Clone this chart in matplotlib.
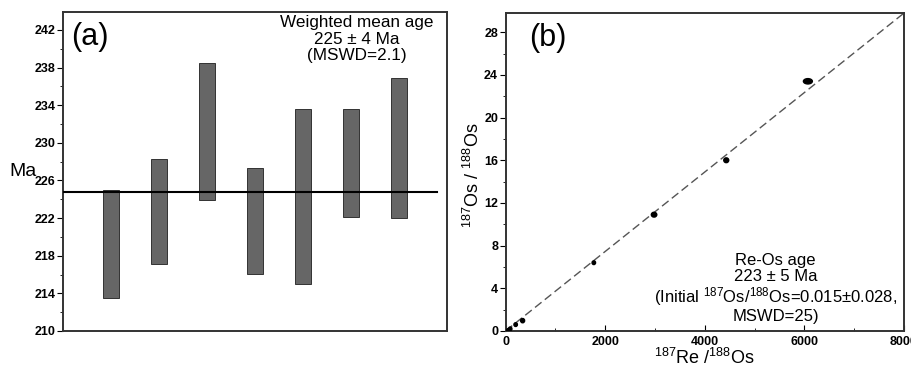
"""Two-panel age figure: (a) weighted mean age bars, (b) Re-Os isochron."""
import numpy as np
import matplotlib
matplotlib.use("Agg")
import matplotlib.pyplot as plt
from matplotlib.patches import Ellipse
from matplotlib.ticker import MultipleLocator

plt.rcParams["font.family"] = ["Liberation Sans", "DejaVu Sans"]
plt.rcParams["mathtext.fontset"] = "custom"
plt.rcParams["mathtext.rm"] = "Liberation Sans"
plt.rcParams["mathtext.it"] = "Liberation Sans:italic"

# (a) individual model ages, as low/high of each error bar (Ma)
age_low = [213.5, 217.1, 223.9, 216.1, 215.0, 222.1, 222.0]
age_high = [225.0, 228.3, 238.5, 227.3, 233.6, 233.6, 236.9]
mean_age = 224.8
a_yticks = [210, 214, 218, 222, 226, 230, 234, 238, 242]

# (b) isochron points and error-ellipse sizes
re_os = [50, 90, 200, 340, 1770, 2980, 4430, 6070]
os_os = [0.05, 0.2, 0.6, 0.97, 6.4, 10.9, 16.0, 23.4]
err_x = [70, 70, 70, 80, 70, 110, 100, 180]
err_y = [0.35, 0.35, 0.35, 0.4, 0.35, 0.45, 0.45, 0.5]
iso_intercept = 0.015
iso_slope = 0.003722
b_xticks = [0, 2000, 4000, 6000, 8000]
b_yticks = [0, 4, 8, 12, 16, 20, 24, 28]

fig = plt.figure(figsize=(9.12, 3.67), dpi=100)

# ---- panel (a)
ax1 = fig.add_axes([0.0691, 0.0981, 0.4211, 0.8692])
xpos = np.arange(1, len(age_low) + 1)
ax1.bar(xpos, np.subtract(age_high, age_low), bottom=age_low, width=0.33,
        color="#666666", edgecolor="#333333", linewidth=0.7, zorder=2)
ax1.plot([0, 7.8], [mean_age, mean_age], color="black", linewidth=1.5, zorder=3)
ax1.set_xlim(0, 8)
ax1.set_ylim(210, 243.9)
ax1.set_xticks([])
ax1.set_yticks(a_yticks)
ax1.yaxis.set_minor_locator(MultipleLocator(2))
ax1.tick_params(axis="y", which="major", direction="out", length=4,
                labelsize=9, pad=1.5)
ax1.tick_params(axis="y", which="minor", direction="out", length=2.5)
for lab in ax1.get_yticklabels():
    lab.set_fontweight("bold")
ax1.set_ylabel("Ma", fontsize=14, rotation=0, labelpad=8, va="center")
ax1.yaxis.set_label_coords(-0.105, 0.5)
for sp in ax1.spines.values():
    sp.set_linewidth(1.4)
    sp.set_color("#333333")
ax1.text(0.02, 0.97, "(a)", transform=ax1.transAxes, fontsize=22,
         ha="left", va="top")
ax1.text(0.765, 0.99, "Weighted mean age\n225 ± 4 Ma\n(MSWD=2.1)",
         transform=ax1.transAxes, fontsize=12.3, ha="center", va="top",
         linespacing=1.12)

# ---- panel (b)
ax2 = fig.add_axes([0.5545, 0.0981, 0.4367, 0.8665])
xl = np.array([0, 8000])
ax2.plot(xl, iso_intercept + iso_slope * xl, color="#555555",
         linestyle=(0, (6, 3)), linewidth=1.0, zorder=2)
for x, y, w, h in zip(re_os, os_os, err_x, err_y):
    ax2.add_patch(Ellipse((x, y), w, h, facecolor="black",
                          edgecolor="black", zorder=3))
ax2.set_xlim(0, 8000)
ax2.set_ylim(0, 29.8)
ax2.set_xticks(b_xticks)
ax2.set_yticks(b_yticks)
ax2.xaxis.set_minor_locator(MultipleLocator(1000))
ax2.yaxis.set_minor_locator(MultipleLocator(2))
ax2.tick_params(axis="y", which="major", direction="out", length=4,
                labelsize=9, pad=1.5)
ax2.tick_params(axis="y", which="minor", direction="out", length=2.5)
ax2.tick_params(axis="x", which="major", direction="in", length=4, labelsize=9)
ax2.tick_params(axis="x", which="minor", direction="in", length=2.5)
for lab in ax2.get_yticklabels() + ax2.get_xticklabels():
    lab.set_fontweight("bold")
ax2.set_ylabel(r"$^{187}$Os / $^{188}$Os", fontsize=13)
ax2.yaxis.set_label_coords(-0.058, 0.49)
ax2.set_xlabel(r"$^{187}$Re /$^{188}$Os", fontsize=13, labelpad=0)
for sp in ax2.spines.values():
    sp.set_linewidth(1.4)
    sp.set_color("#333333")
ax2.text(0.06, 0.97, "(b)", transform=ax2.transAxes, fontsize=22,
         ha="left", va="top")
ax2.text(5420, 7.3,
         "Re-Os age\n223 ± 5 Ma\n(Initial $^{187}$Os/$^{188}$Os=0.015±0.028,\nMSWD=25)",
         fontsize=12, ha="center", va="top", linespacing=1.08)

fig.savefig("out.png", dpi=100)
